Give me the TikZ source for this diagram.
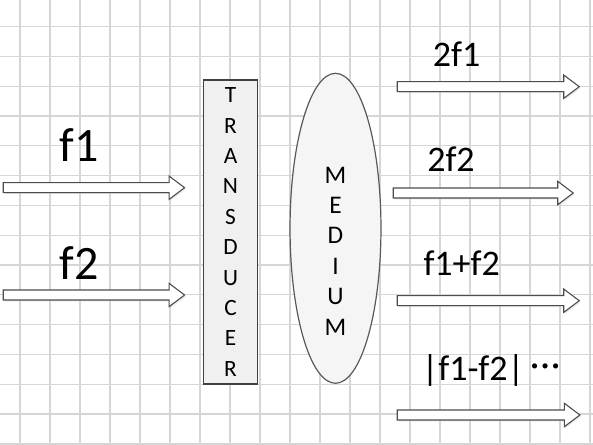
\documentclass[tikz,border=0pt]{standalone}
\usepackage{fontspec}
\setmainfont{Carlito}
\usetikzlibrary{shapes.geometric,shapes.arrows,shadows}

\begin{document}
\begin{tikzpicture}[x=0.75pt,y=0.75pt,yscale=-1,xscale=1,
    gridline/.style={draw=gray!32,line width=0.9pt},
    sigarrow/.style={single arrow,draw=black!70,fill=white,line width=0.8pt,
      inner sep=3.35pt,single arrow head extend=5pt,single arrow tip angle=74,
      anchor=tail,drop shadow={shadow xshift=1pt,shadow yshift=-1pt,fill=gray!40}},
    inlabel/.style={font=\fontsize{36}{42}\selectfont,inner sep=0.75pt,anchor=base},
    outlabel/.style={font=\fontsize{27}{32}\selectfont,inner sep=0.75pt,anchor=base},
    stack/.style={align=center,inner sep=0.75pt}]
    \useasboundingbox (0,0) rectangle (593,445);
    
    % grid
    \foreach \gx in {20,50,...,590} \draw [gridline] (\gx,0) -- (\gx,445) ;
    \foreach \gk in {0,...,14} \draw [gridline] (0,{26.7+29.8*\gk}) -- (593,{26.7+29.8*\gk}) ;
    
    % transducer and medium
    \node (trans) [draw=black!75,fill=gray!12,line width=0.9pt,minimum width=40.8pt,minimum height=228pt,
      stack,font=\fontsize{17.5}{22.8}\selectfont] at (230.5,232) {T\\R\\A\\N\\S\\D\\U\\C\\E\\R};
    \node (med) [ellipse,draw=black!65,fill=gray!8,line width=0.9pt,minimum width=68.2pt,minimum height=232.5pt] at (335.5,228.3) {};
    \node (medtxt) [stack,font=\fontsize{19}{22.8}\selectfont] at (335.5,251) {M\\E\\D\\I\\U\\M};
    
    % input signals
    \node (inA) [sigarrow,minimum height=136pt] at (2.7,187.7) {};
    \node (inB) [sigarrow,minimum height=136pt] at (2.7,295) {};
    \node (lblA) [inlabel] at (79,161.7) {f1};
    \node (lblB) [inlabel] at (79,280) {f2};
    
    % output signals
    \node (outA) [sigarrow,minimum height=136.5pt] at (396.7,86.7) {};
    \node (outB) [sigarrow,minimum height=135pt] at (392.7,193) {};
    \node (outC) [sigarrow,minimum height=136.5pt] at (396.7,300.7) {};
    \node (outD) [sigarrow,minimum height=137pt] at (396.7,415) {};
    \node (lblC) [outlabel] at (456.7,66.7) {2f1};
    \node (lblD) [outlabel] at (451,171.7) {2f2};
    \node (lblE) [outlabel] at (461.7,276) {f1+f2};
    \node (lblF) [outlabel] at (491,381) {|f1-f2|\,\raisebox{3pt}{·\kern1pt·\kern1pt·}};
  \end{tikzpicture}
\end{document}
